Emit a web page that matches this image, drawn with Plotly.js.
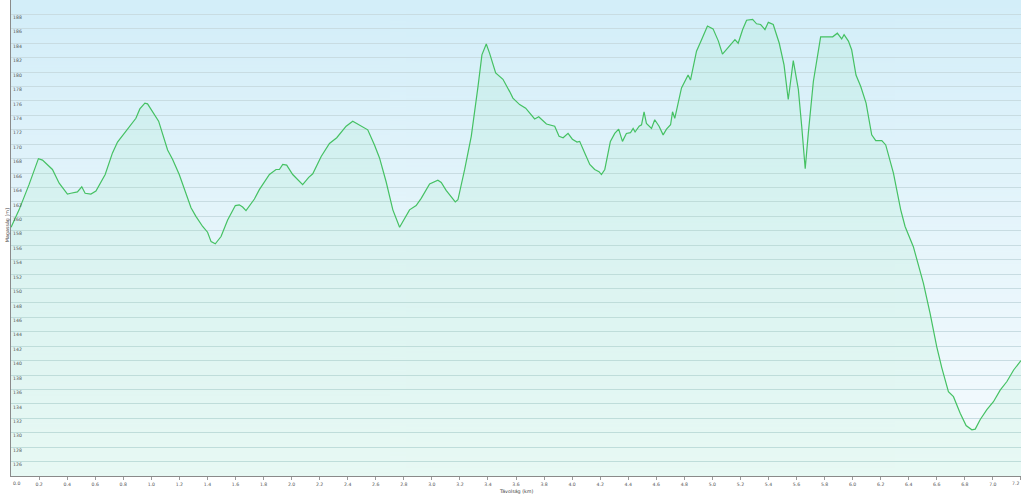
<!DOCTYPE html>
<html>
<head>
<meta charset="utf-8">
<script src="https://cdn.plot.ly/plotly-3.0.1.min.js"></script>
<style>
  html, body { margin: 0; padding: 0; background: #ffffff; }
  #chart { width: 1023px; height: 495px; }
</style>
</head>
<body>
<div id="chart"></div>
<script>
// Distance along the route (km)
const distanceKm = [0, 0.057, 0.128, 0.195, 0.224, 0.266, 0.295, 0.343, 0.402, 0.426, 0.473, 0.504, 0.528, 0.569, 0.605, 0.671, 0.723, 0.759, 0.795, 0.818, 0.854, 0.890, 0.918, 0.954, 0.973, 1.009, 1.052, 1.116, 1.152, 1.199, 1.235, 1.283, 1.318, 1.366, 1.401, 1.426, 1.456, 1.497, 1.544, 1.599, 1.627, 1.651, 1.675, 1.711, 1.735, 1.770, 1.842, 1.889, 1.913, 1.937, 1.965, 2.008, 2.079, 2.122, 2.151, 2.211, 2.270, 2.322, 2.389, 2.436, 2.484, 2.543, 2.591, 2.627, 2.674, 2.722, 2.770, 2.798, 2.841, 2.888, 2.924, 2.984, 3.043, 3.067, 3.102, 3.167, 3.186, 3.234, 3.281, 3.329, 3.357, 3.388, 3.412, 3.455, 3.507, 3.555, 3.578, 3.626, 3.669, 3.733, 3.762, 3.817, 3.876, 3.907, 3.936, 3.971, 4.002, 4.035, 4.054, 4.090, 4.126, 4.161, 4.192, 4.209, 4.233, 4.273, 4.304, 4.332, 4.359, 4.387, 4.416, 4.435, 4.449, 4.478, 4.495, 4.513, 4.530, 4.566, 4.589, 4.620, 4.649, 4.673, 4.702, 4.716, 4.732, 4.780, 4.827, 4.844, 4.887, 4.923, 4.965, 5.005, 5.043, 5.072, 5.100, 5.161, 5.184, 5.216, 5.244, 5.287, 5.315, 5.344, 5.375, 5.399, 5.434, 5.477, 5.511, 5.541, 5.577, 5.613, 5.637, 5.662, 5.684, 5.720, 5.772, 5.858, 5.891, 5.922, 5.939, 5.970, 5.993, 6.024, 6.058, 6.096, 6.136, 6.165, 6.208, 6.236, 6.291, 6.343, 6.374, 6.433, 6.505, 6.552, 6.600, 6.636, 6.683, 6.719, 6.767, 6.809, 6.850, 6.874, 6.909, 6.957, 7.004, 7.052, 7.100, 7.148, 7.2];

// Elevation (m)
const elevationM = [158.5, 160.9, 164.4, 168.0, 167.8, 167.0, 166.5, 164.6, 163.1, 163.2, 163.4, 164.1, 163.2, 163.1, 163.5, 165.8, 168.8, 170.3, 171.2, 171.9, 172.7, 173.6, 174.9, 175.7, 175.6, 174.5, 173.2, 169.2, 167.9, 165.8, 163.7, 161.2, 160.0, 158.6, 157.8, 156.5, 156.2, 157.2, 159.5, 161.5, 161.6, 161.3, 160.8, 161.8, 162.4, 163.7, 165.8, 166.5, 166.5, 167.2, 167.1, 165.8, 164.4, 165.4, 165.9, 168.3, 170.1, 170.9, 172.5, 173.2, 172.7, 172.0, 169.9, 168.1, 164.8, 160.9, 158.5, 159.5, 160.9, 161.5, 162.5, 164.5, 165.0, 164.7, 163.6, 162.0, 162.3, 166.5, 171.1, 178.0, 182.4, 183.9, 182.6, 179.9, 179.0, 177.3, 176.4, 175.5, 175.0, 173.5, 173.8, 172.8, 172.5, 171.1, 170.9, 171.5, 170.7, 170.3, 170.4, 168.8, 167.2, 166.5, 166.2, 165.8, 166.5, 170.4, 171.5, 172.1, 170.4, 171.5, 171.6, 172.2, 171.7, 172.5, 172.7, 174.5, 172.9, 172.2, 173.4, 172.5, 171.3, 172.1, 172.7, 174.5, 173.6, 177.8, 179.6, 178.9, 182.9, 184.5, 186.4, 186.0, 184.3, 182.5, 183.1, 184.5, 184.0, 185.9, 187.2, 187.3, 186.7, 186.6, 185.9, 186.9, 186.6, 184.0, 181.0, 176.2, 181.6, 177.6, 172.5, 166.6, 171.5, 178.7, 184.9, 184.9, 185.4, 184.6, 185.2, 184.3, 183.1, 179.6, 178.0, 175.7, 171.3, 170.5, 170.5, 169.9, 166.0, 160.9, 158.6, 155.8, 150.7, 146.6, 141.9, 139.0, 135.7, 135.0, 132.7, 131.0, 130.4, 130.5, 131.8, 133.2, 134.3, 135.9, 137.1, 138.7, 140.0];

// Axis tick labels
const xTickVals = [0, 0.2, 0.4, 0.6, 0.8, 1.0, 1.2, 1.4, 1.6, 1.8, 2.0, 2.2, 2.4, 2.6, 2.8, 3.0, 3.2, 3.4, 3.6, 3.8, 4.0, 4.2, 4.4, 4.6, 4.8, 5.0, 5.2, 5.4, 5.6, 5.8, 6.0, 6.2, 6.4, 6.6, 6.8, 7.0, 7.2];
const xTickText = ['0.0', '0.2', '0.4', '0.6', '0.8', '1.0', '1.2', '1.4', '1.6', '1.8', '2.0', '2.2', '2.4', '2.6', '2.8', '3.0', '3.2', '3.4', '3.6', '3.8', '4.0', '4.2', '4.4', '4.6', '4.8', '5.0', '5.2', '5.4', '5.6', '5.8', '6.0', '6.2', '6.4', '6.6', '6.8', '7.0', '7.2'];
const yTickVals = [126, 128, 130, 132, 134, 136, 138, 140, 142, 144, 146, 148, 150, 152, 154, 156, 158, 160, 162, 164, 166, 168, 170, 172, 174, 176, 178, 180, 182, 184, 186, 188];

const xTitle = 'Távolság (km)';
const yTitle = 'Magasság [m]';

// background gradient image (plot area)
function gradientImage() {
  const c = document.createElement('canvas');
  c.width = 4; c.height = 512;
  const g = c.getContext('2d');
  const gr = g.createLinearGradient(0, 0, 0, 512);
  gr.addColorStop(0, '#d3eef9');
  gr.addColorStop(0.5, '#e6f5fb');
  gr.addColorStop(1, '#f5fbfe');
  g.fillStyle = gr;
  g.fillRect(0, 0, 4, 512);
  return c.toDataURL('image/png');
}

const FONT = 'DejaVu Sans, Verdana, sans-serif';
const tickFont = { family: FONT, size: 4.6, color: '#555555' };

const trace = {
  x: distanceKm,
  y: elevationM,
  type: 'scatter',
  mode: 'lines',
  line: { color: '#45c163', width: 1.2 },
  fill: 'tozeroy',
  fillcolor: 'rgba(100,235,140,0.09)',
  hoverinfo: 'skip'
};

const lastI = xTickVals.length - 1;
// inner tick labels drawn by the axis; the two end labels are drawn inward as annotations
const axisTickText = xTickText.map((t, i) => (i === 0 || i === lastI) ? '' : t);

const layout = {
  width: 1023,
  height: 495,
  margin: { l: 11, r: 2, t: 0, b: 19 },
  paper_bgcolor: '#ffffff',
  plot_bgcolor: '#e6f5fb',
  showlegend: false,
  xaxis: {
    range: [-0.0005, 7.2005],
    tickmode: 'array',
    tickvals: xTickVals,
    ticktext: axisTickText,
    showgrid: false,
    zeroline: false,
    showline: true,
    linecolor: '#8a8a8a',
    linewidth: 1,
    ticks: 'outside',
    ticklen: 3,
    tickcolor: '#9a9a9a',
    tickfont: tickFont
  },
  yaxis: {
    range: [124, 190],
    tickmode: 'array',
    tickvals: yTickVals,
    ticktext: yTickVals.map(String),
    showgrid: true,
    gridcolor: '#c8dce2',
    gridwidth: 1,
    zeroline: false,
    showline: true,
    linecolor: '#8a8a8a',
    linewidth: 1,
    ticks: '',
    ticklabelposition: 'inside',
    ticklabelshift: 3,
    tickfont: tickFont
  },
  images: [{
    source: gradientImage(),
    xref: 'paper', yref: 'paper',
    x: 0, y: 1, sizex: 1, sizey: 1,
    xanchor: 'left', yanchor: 'top',
    sizing: 'stretch',
    layer: 'below'
  }],
  annotations: [
    {
      text: xTickText[0], xref: 'x', yref: 'paper',
      x: xTickVals[0], y: 0, yshift: -7, xanchor: 'left', yanchor: 'middle',
      showarrow: false, font: tickFont
    },
    {
      text: xTickText[lastI], xref: 'x', yref: 'paper',
      x: xTickVals[lastI], y: 0, yshift: -7, xanchor: 'right', yanchor: 'middle',
      showarrow: false, font: tickFont
    },
    {
      text: xTitle, xref: 'paper', yref: 'paper',
      x: 0.5, y: 0, yshift: -15, xanchor: 'center', yanchor: 'middle',
      showarrow: false, font: { family: FONT, size: 4.8, color: '#444444' }
    },
    {
      text: yTitle, xref: 'paper', yref: 'paper',
      x: 0, xshift: -4, y: 0.527, xanchor: 'center', yanchor: 'middle',
      textangle: -90,
      showarrow: false, font: { family: FONT, size: 4.8, color: '#444444' }
    }
  ]
};

Plotly.newPlot('chart', [trace], layout, { displayModeBar: false, staticPlot: true });
</script>
</body>
</html>
